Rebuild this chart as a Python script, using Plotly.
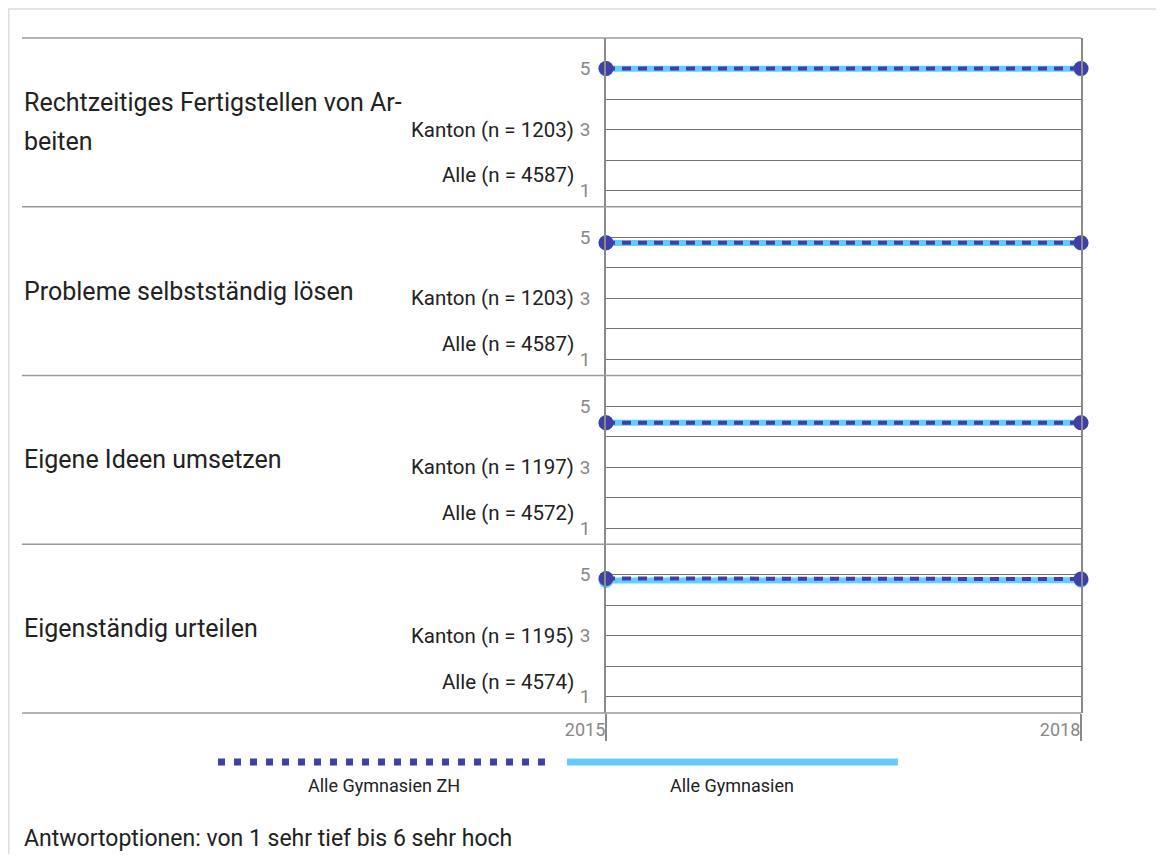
import plotly.graph_objects as go

# ---------------- data ----------------
categories = [
    ["Rechtzeitiges Fertigstellen von Ar-", "beiten"],
    ["Probleme selbstständig lösen"],
    ["Eigene Ideen umsetzen"],
    ["Eigenständig urteilen"],
]
kanton_n = [1203, 1203, 1197, 1195]
alle_n = [4587, 4587, 4572, 4574]
years = [2015, 2018]
zh_values = [
    [5.00, 5.00],
    [4.82, 4.82],
    [4.45, 4.45],
    [4.88, 4.86],
]
alle_values = [
    [4.99, 4.99],
    [4.81, 4.81],
    [4.45, 4.45],
    [4.81, 4.82],
]
y_tickvals = [1, 2, 3, 4, 5]
y_ticktext = ["1", "", "3", "", "5"]
series_names = ["Alle Gymnasien ZH", "Alle Gymnasien"]
footer = "Antwortoptionen: von 1 sehr tief bis 6 sehr hoch"

# ---------------- layout helpers ----------------
OFF = 8  # page body margin
W, H = 1164 - 2 * OFF, 862 - 2 * OFF
FONT = "Roboto"
DARK = "#3f3fa6"
LIGHT = "#66ccff"
TXT = "#222222"
GRAY = "#888888"


def px(x):
    return (x - OFF) / W


def py(y):
    return 1 - (y - OFF) / H


PANEL_TOP = 38
PANEL_H = 168.75
X0, X1 = 606, 1081

fig = go.Figure()
annotations = []
shapes = []

n = len(categories)
for i in range(n):
    ax = "" if i == 0 else str(i + 1)
    top = PANEL_TOP + PANEL_H * i
    bot = top + PANEL_H
    fig.add_trace(go.Scatter(
        x=years, y=alle_values[i], mode="lines+markers",
        line=dict(color=LIGHT, width=6),
        marker=dict(color=LIGHT, size=15),
        cliponaxis=False, showlegend=False,
        xaxis="x", yaxis="y" + ax, name=series_names[1]))
    fig.add_trace(go.Scatter(
        x=years, y=zh_values[i], mode="lines+markers",
        line=dict(color=DARK, width=4, dash="9px,7px"),
        marker=dict(color=DARK, size=15),
        cliponaxis=False, showlegend=False,
        xaxis="x", yaxis="y" + ax, name=series_names[0]))
    fig.update_layout(**{
        "yaxis" + ax: dict(
            domain=[py(bot), py(top)], anchor="x",
            range=[0.47, 6], tickvals=y_tickvals, ticktext=y_ticktext,
            showgrid=True, gridcolor="#737373", gridwidth=1.3,
            zeroline=False, ticks="", ticklabelstandoff=10,
            tickfont=dict(family=FONT, size=19, color=GRAY),
            showline=True, mirror=True, linecolor="#8a8a8a", linewidth=1.5,
            automargin=False, fixedrange=True,
        )
    })
    # category label lines
    lines = categories[i]
    nl = len(lines)
    for j, t in enumerate(lines):
        annotations.append(dict(
            text=t, xref="paper", x=px(22), xanchor="left",
            yref="y" + ax + " domain", y=0.5, yanchor="middle",
            yshift=(nl - 1) * 19.5 - j * 39,
            showarrow=False, font=dict(family=FONT, size=25, color=TXT)))
    annotations.append(dict(
        text=f"Kanton (n = {kanton_n[i]})", xref="paper", x=px(576), xanchor="right",
        yref="y" + ax, y=3, yanchor="middle", showarrow=False,
        font=dict(family=FONT, size=20.5, color=TXT)))
    annotations.append(dict(
        text=f"Alle (n = {alle_n[i]})", xref="paper", x=px(576), xanchor="right",
        yref="y" + ax, y=1.5, yanchor="middle", showarrow=False,
        font=dict(family=FONT, size=20.5, color=TXT)))
    # separator lines
    shapes.append(dict(type="line", xref="paper", x0=px(22), x1=px(X1),
                       yref="paper", y0=py(top), y1=py(top),
                       line=dict(color="#9a9a9a", width=1.5)))
    if i == n - 1:
        shapes.append(dict(type="line", xref="paper", x0=px(22), x1=px(X1),
                           yref="paper", y0=py(bot), y1=py(bot),
                           line=dict(color="#9a9a9a", width=1.5)))

# outer frame
shapes.append(dict(type="rect", xref="paper", yref="paper",
                   x0=px(8.7), x1=px(1200), y0=py(900), y1=py(9),
                   line=dict(color="#dddddd", width=1.5), layer="below"))

# legend
shapes.append(dict(type="line", xref="paper", yref="paper",
                   x0=px(218), x1=px(545), y0=py(762), y1=py(762),
                   line=dict(color=DARK, width=7, dash="7px,9px")))
shapes.append(dict(type="line", xref="paper", yref="paper",
                   x0=px(567), x1=px(898), y0=py(762), y1=py(762),
                   line=dict(color=LIGHT, width=7)))
annotations.append(dict(text=series_names[0], xref="paper", yref="paper",
                        x=px(384), y=py(785), xanchor="center", yanchor="middle",
                        showarrow=False, font=dict(family=FONT, size=18, color=TXT)))
annotations.append(dict(text=series_names[1], xref="paper", yref="paper",
                        x=px(732), y=py(785), xanchor="center", yanchor="middle",
                        showarrow=False, font=dict(family=FONT, size=18, color=TXT)))
annotations.append(dict(text=footer, xref="paper", yref="paper",
                        x=px(22), y=py(838), xanchor="left", yanchor="middle",
                        showarrow=False, font=dict(family=FONT, size=23, color=TXT)))

fig.update_layout(
    width=W, height=H,
    margin=dict(l=0, r=0, t=0, b=0, autoexpand=False),
    paper_bgcolor="white", plot_bgcolor="white",
    font=dict(family=FONT),
    showlegend=False,
    xaxis=dict(
        domain=[px(X0), px(X1)], anchor="y" + str(n), range=[years[0], years[-1]],
        tickvals=years, ticktext=[str(y) for y in years],
        ticks="outside", ticklen=27, tickwidth=1.5, tickcolor="#8a8a8a",
        ticklabelposition="outside left",
        tickfont=dict(family=FONT, size=18, color=GRAY),
        showgrid=False, zeroline=False, showline=False,
        automargin=False, fixedrange=True,
    ),
    shapes=shapes,
    annotations=annotations,
)

fig.write_html("out.html")
